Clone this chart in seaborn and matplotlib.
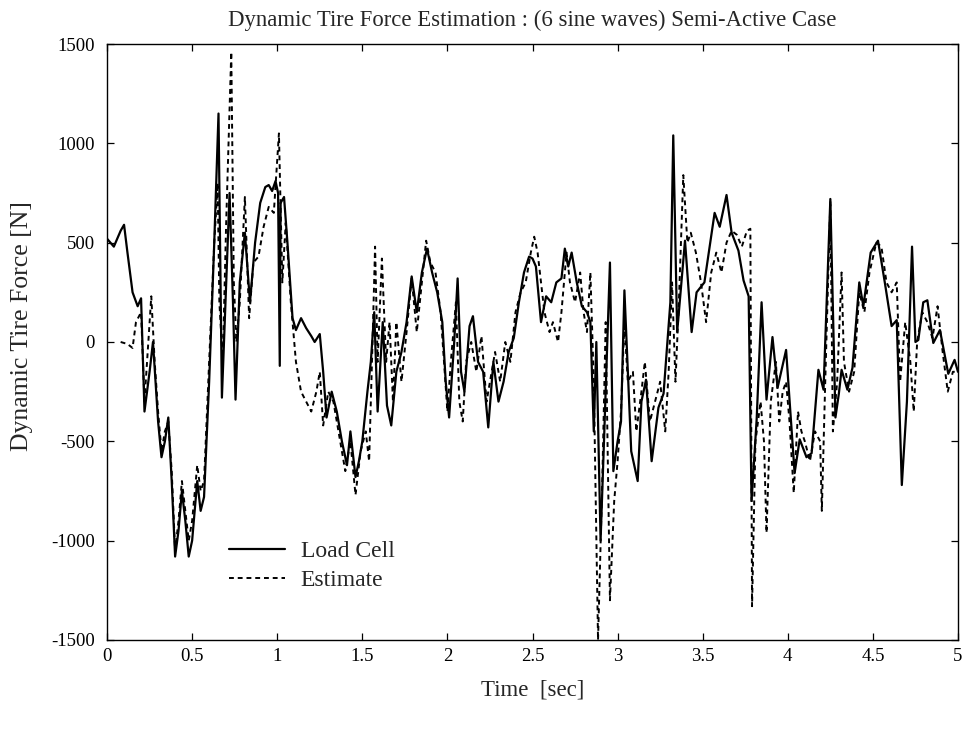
import numpy as np
import pandas as pd
import matplotlib
matplotlib.use("Agg")
import matplotlib.pyplot as plt
import seaborn as sns

# Load cell measurement: time [sec] and dynamic tire force [N]
load_cell_t = [0.0, 0.04, 0.08, 0.1, 0.12, 0.15, 0.18, 0.2, 0.22, 0.25, 0.27, 0.3, 0.32, 0.34,
               0.36, 0.38, 0.40, 0.42, 0.44, 0.46, 0.48, 0.50, 0.53, 0.55, 0.57, 0.60, 0.63,
               0.655, 0.675, 0.70, 0.72, 0.74, 0.755, 0.78, 0.81, 0.84, 0.87, 0.9, 0.93, 0.95,
               0.97, 0.99, 1.005, 1.015, 1.02, 1.04, 1.06, 1.09, 1.11, 1.14, 1.17, 1.2, 1.22,
               1.25, 1.27, 1.29, 1.32, 1.35, 1.38, 1.41, 1.43, 1.46, 1.48, 1.5, 1.53, 1.55,
               1.57, 1.59, 1.62, 1.645, 1.67, 1.70, 1.73, 1.76, 1.79, 1.82, 1.85, 1.88, 1.91,
               1.94, 1.97, 1.99, 2.01, 2.04, 2.06, 2.08, 2.1, 2.13, 2.15, 2.18, 2.21, 2.24,
               2.27, 2.3, 2.33, 2.36, 2.39, 2.42, 2.45, 2.48, 2.5, 2.52, 2.55, 2.58, 2.61,
               2.64, 2.67, 2.69, 2.71, 2.73, 2.76, 2.79, 2.82, 2.84, 2.86, 2.875, 2.90, 2.92,
               2.955, 2.975, 3.0, 3.02, 3.04, 3.08, 3.118, 3.14, 3.167, 3.2, 3.24, 3.27,
               3.31, 3.327, 3.35, 3.396, 3.435, 3.464, 3.51, 3.57, 3.60, 3.64, 3.67, 3.71,
               3.74, 3.77, 3.787, 3.817, 3.846, 3.875, 3.91, 3.94, 3.99, 4.04, 4.07, 4.11,
               4.14, 4.18, 4.21, 4.25, 4.28, 4.30, 4.316, 4.35, 4.38, 4.42, 4.444, 4.487,
               4.53, 4.57, 4.61, 4.64, 4.67, 4.70, 4.73, 4.75, 4.767, 4.796, 4.82, 4.855,
               4.894, 4.943, 4.98, 5.0]
load_cell_f = [520, 480, 560, 590, 450, 250, 180, 220, -350, -150, 0, -400, -580, -500,
               -380, -700, -1080, -950, -750, -900, -1080, -1000, -700, -850, -780, -200, 500,
               1150, -280, 300, 750, 200, -290, 300, 550, 200, 500, 700, 780, 790,
               760, 810, 750, -120, 700, 730, 500, 120, 60, 120, 70, 30, 0,
               40, -150, -380, -250, -350, -500, -620, -450, -680, -600, -500, -250, -100,
               150, -350, 100, -320, -420, -150, -50, 100, 330, 150, 350, 470, 350,
               250, 100, -200, -380, 0, 320, -150, -250, 80, 130, -100, -150, -430,
               -100, -300, -200, -50, 20, 200, 350, 430, 420, 380, 100, 230, 200,
               300, 320, 470, 380, 450, 300, 180, 150, 100, -450, 0, -1000, -500,
               400, -650, -500, -400, 260, -550, -700, -300, -190, -600, -330, -260,
               200, 1040, 50, 510, 50, 250, 300, 650, 580, 740, 550, 460,
               310, 230, -800, -390, 200, -290, 25, -230, -40, -660, -490, -580,
               -560, -140, -240, 720, -380, -260, -140, -240, -130, 300, 180, 450,
               510, 300, 80, 110, -720, -300, 480, 0, 10, 200, 210, -5,
               60, -160, -90, -150]

# Observer estimate of the same force
estimate_t = [0.08, 0.12, 0.15, 0.17, 0.2, 0.22, 0.26, 0.28, 0.3, 0.32, 0.34, 0.36, 0.38,
              0.40, 0.42, 0.44, 0.46, 0.48, 0.50, 0.53, 0.55, 0.57, 0.60, 0.63, 0.65, 0.66,
              0.68, 0.70, 0.73, 0.745, 0.76, 0.78, 0.81, 0.835, 0.86, 0.89, 0.92, 0.95,
              0.98, 1.01, 1.03, 1.05, 1.08, 1.11, 1.14, 1.17, 1.2, 1.23, 1.25, 1.27, 1.30,
              1.33, 1.36, 1.40, 1.43, 1.46, 1.49, 1.52, 1.54, 1.56, 1.575, 1.59, 1.615,
              1.64, 1.66, 1.68, 1.70, 1.73, 1.76, 1.79, 1.82, 1.85, 1.875, 1.90, 1.93,
              1.96, 1.98, 2.0, 2.02, 2.05, 2.07, 2.09, 2.11, 2.14, 2.17, 2.2, 2.23, 2.25,
              2.28, 2.31, 2.34, 2.37, 2.40, 2.43, 2.46, 2.49, 2.51, 2.53, 2.55, 2.57,
              2.60, 2.62, 2.65, 2.67, 2.70, 2.72, 2.75, 2.78, 2.80, 2.82, 2.84, 2.86,
              2.885, 2.91, 2.93, 2.955, 2.98, 3.0, 3.02, 3.04, 3.06, 3.09, 3.11, 3.14,
              3.16, 3.19, 3.22, 3.25, 3.28, 3.30, 3.32, 3.34, 3.36, 3.386, 3.41, 3.43,
              3.46, 3.49, 3.52, 3.55, 3.58, 3.61, 3.64, 3.67, 3.70, 3.73, 3.76, 3.78,
              3.79, 3.81, 3.84, 3.86, 3.875, 3.90, 3.93, 3.95, 3.97, 3.99, 4.01, 4.035,
              4.06, 4.08, 4.10, 4.13, 4.16, 4.19, 4.2, 4.22, 4.25, 4.265, 4.29, 4.316,
              4.33, 4.36, 4.39, 4.42, 4.45, 4.48, 4.52, 4.55, 4.58, 4.61, 4.64, 4.66,
              4.69, 4.72, 4.74, 4.76, 4.79, 4.82, 4.85, 4.88, 4.91, 4.94, 4.97, 5.0]
estimate_f = [0, -10, -30, 100, 150, -300, 230, -100, -350, -550, -450, -400, -650,
              -1050, -900, -700, -850, -1000, -900, -620, -750, -700, -100, 500, 800, 200,
              -100, 600, 1460, 300, 0, 200, 730, 120, 400, 430, 580, 680,
              650, 1050, 300, 600, 200, -100, -250, -300, -350, -250, -150, -420, -250,
              -300, -450, -650, -500, -770, -550, -450, -600, 0, 480, -100, 420,
              -100, 100, -300, 100, -200, 50, 320, 50, 300, 510, 400, 350,
              150, -100, -350, -100, 200, -300, -400, -100, 0, -150, 30, -300, -200,
              -50, -200, 0, -100, 150, 250, 300, 450, 530, 450, 300, 150,
              50, 100, 0, 150, 450, 300, 200, 350, 150, 50, 350, -200,
              -1500, -700, 100, -1300, -800, -600, -350, 100, -200, -150, -450, -250,
              -100, -400, -300, -200, -450, -150, 300, -200, 200, 840, 500, 550,
              450, 300, 100, 350, 450, 350, 500, 560, 540, 480, 560, 570,
              -1330, -500, -300, -500, -960, -300, -100, -400, -250, -200, -400, -760,
              -350, -450, -500, -600, -450, -500, -850, -200, 710, -450, -200, 350,
              -100, -250, -150, 250, 150, 350, 500, 480, 300, 250, 300, -200,
              100, -100, -350, 0, 150, 100, 20, 180, -50, -250, -150, -150]

x_ticks = [0, 0.5, 1, 1.5, 2, 2.5, 3, 3.5, 4, 4.5, 5]
x_tick_labels = ["0", "0.5", "1", "1.5", "2", "2.5", "3", "3.5", "4", "4.5", "5"]
y_ticks = [-1500, -1000, -500, 0, 500, 1000, 1500]

sns.set_style("ticks")
plt.rcParams["font.family"] = ["Liberation Serif", "DejaVu Serif"]
plt.rcParams["axes.unicode_minus"] = False

fig = plt.figure(figsize=(9.66, 7.31), dpi=100)
ax = fig.add_axes([0.1108, 0.1245, 0.8809, 0.8153])

lc = pd.DataFrame({"t": load_cell_t, "f": load_cell_f})
est = pd.DataFrame({"t": estimate_t, "f": estimate_f})

sns.lineplot(data=lc, x="t", y="f", ax=ax, color="black", linewidth=1.6,
             label="Load Cell", sort=False)
sns.lineplot(data=est, x="t", y="f", ax=ax, color="black", linewidth=1.4,
             linestyle=(0, (2.5, 2)), label="Estimate", sort=False)

ax.set_xlim(0, 5)
ax.set_ylim(-1500, 1500)
ax.set_xticks(x_ticks)
ax.set_xticklabels(x_tick_labels)
ax.set_yticks(y_ticks)
ax.tick_params(direction="in", top=True, right=True, length=5, width=0.9,
               labelsize=13.5, colors="black")
ax.tick_params(axis="y", pad=9)
ax.tick_params(axis="x", pad=6)
for s in ax.spines.values():
    s.set_linewidth(1.0)
    s.set_color("black")

ax.set_xlabel("Time  [sec]", fontsize=16.5, labelpad=10)
ax.set_ylabel("Dynamic Tire Force [N]", fontsize=18.5)
ax.yaxis.set_label_coords(-0.087, 0.526)
ax.set_title("Dynamic Tire Force Estimation : (6 sine waves) Semi-Active Case",
             fontsize=16.4, pad=13)

leg = ax.legend(loc="upper left", bbox_to_anchor=(0.118, 0.202), frameon=False,
                fontsize=17, handlelength=2.4, handletextpad=0.65, labelspacing=0.3)

fig.savefig("out.png", dpi=100)
